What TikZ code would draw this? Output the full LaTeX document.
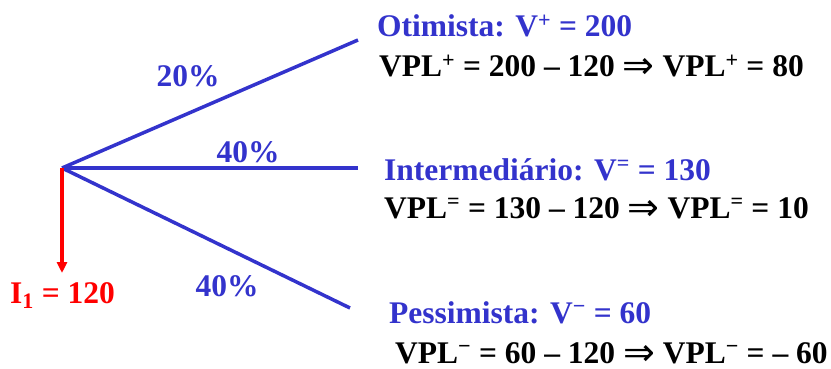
\documentclass[tikz,border=0pt]{standalone}
\usepackage{fontspec}
\setmainfont{Liberation Serif}
\newfontfamily\setafont{DejaVu Sans}
\usepackage{tikz}
\usetikzlibrary{positioning,arrows.meta}
\definecolor{ramo}{RGB}{51,51,204}
\newcommand{\implica}{\raisebox{-2pt}{\setafont\mdseries\fontsize{38}{38}\selectfont ⇒}}
\tikzset{
  branch/.style={line width=3.5pt,ramo},
  invest/.style={-{Triangle[length=11pt,width=10pt]},line width=3.5pt,red},
  txt/.style={font=\bfseries\fontsize{31.5}{36}\selectfont,inner sep=0pt},
  prob/.style={txt,ramo,anchor=base},
  cenario/.style={txt,ramo,anchor=base west},
  vpl/.style={txt,black,anchor=base west},
}
\begin{document}
\begin{tikzpicture}[x=1pt,y=-1pt]
  \useasboundingbox (0,0) rectangle (831,369);
  % arvore de decisao
  \coordinate (raiz) at (62,168);
  \coordinate (otim) at (358,40);
  \coordinate (inter) at (358,168);
  \coordinate (pess) at (350,308);
  \coordinate (inv) at (62,273);
  \draw[branch] (raiz) -- (otim);
  \draw[branch] (raiz) -- (inter);
  \draw[branch] (raiz) -- (pess);
  \draw[invest] (raiz) -- (inv);
  % probabilidades
  \node[prob] (p1) at (188,87) {20\%};
  \node[prob] (p2) at (248,162) {40\%};
  \node[prob] (p3) at (227,296) {40\%};
  \node[txt,red,anchor=base west] (i1) at (10,303) {I\textsubscript{1} = 120};
  % cenarios
  \node[cenario] (otimT) at (377,37) {Otimista: V\textsuperscript{+} = 200};
  \node[vpl] (otimV) at (379,77) {VPL\textsuperscript{+} = 200 – 120 \implica{} VPL\textsuperscript{+} = 80};
  \node[cenario] (interT) at (384,180) {Intermediário: V\textsuperscript{=} = 130};
  \node[vpl] (interV) at (384,218) {VPL\textsuperscript{=} = 130 – 120 \implica{} VPL\textsuperscript{=} = 10};
  \node[cenario] (pessT) at (389,323) {Pessimista: V\textsuperscript{−} = 60};
  \node[vpl] (pessV) at (395,363) {VPL\textsuperscript{−} = 60 – 120 \implica{} VPL\textsuperscript{−} = – 60};
\end{tikzpicture}
\end{document}
